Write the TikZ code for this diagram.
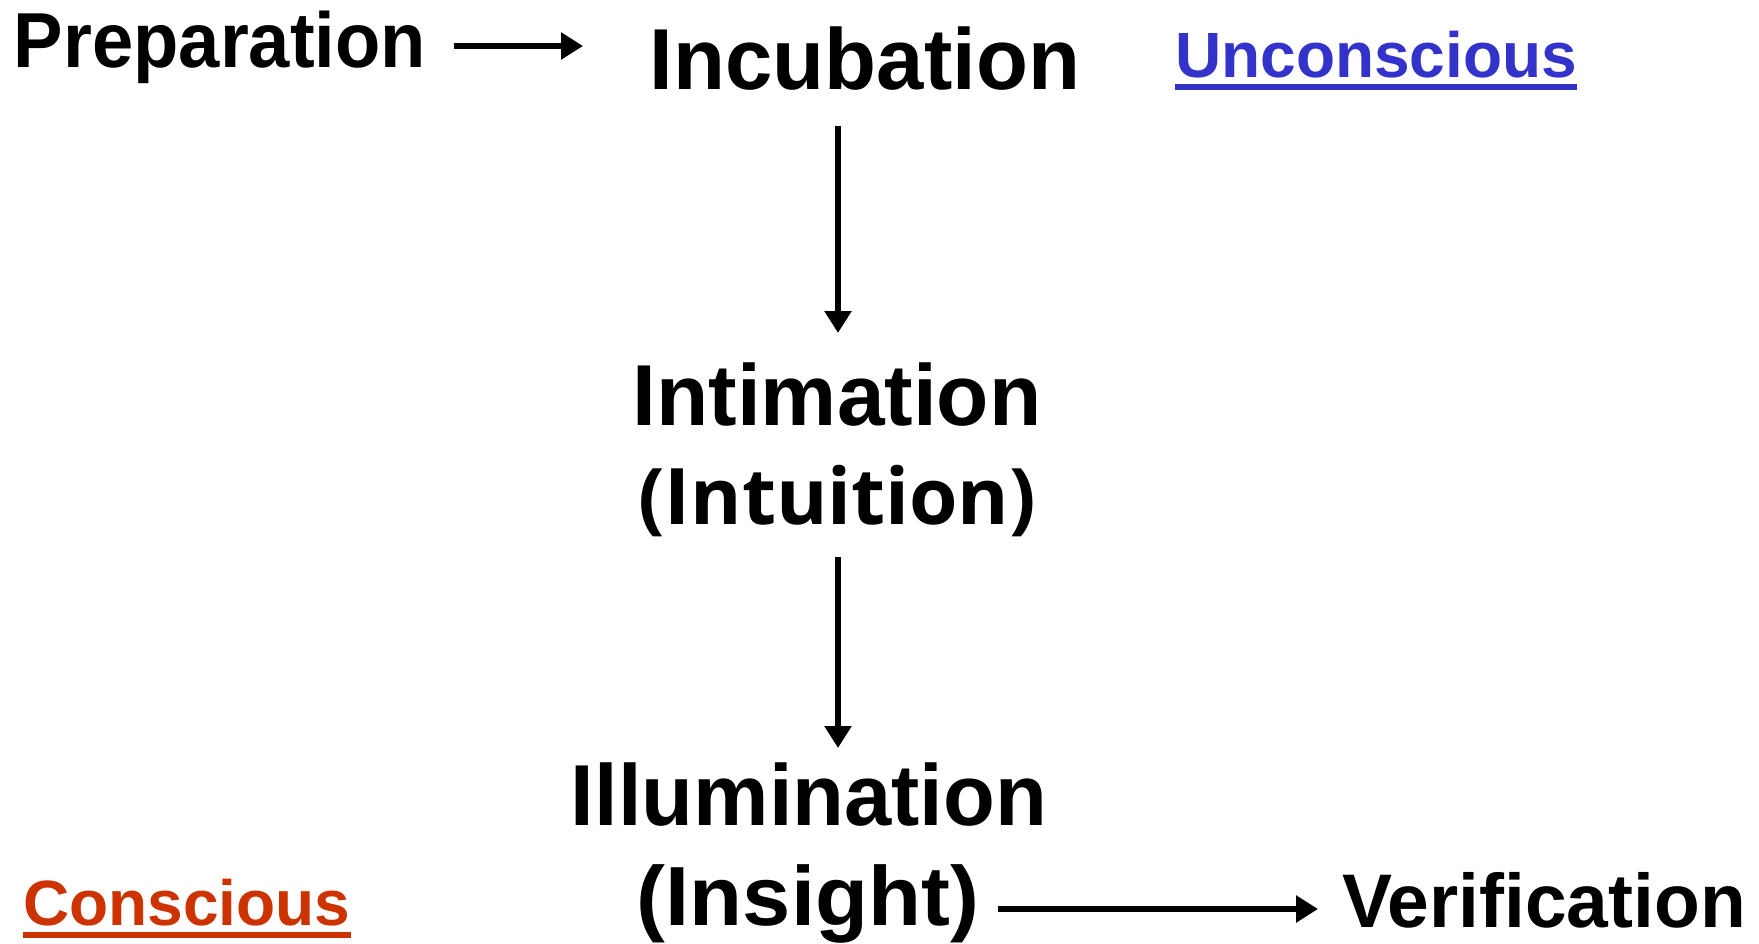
\documentclass[tikz,border=0pt]{standalone}
\usepackage{fontspec}
\usepackage{graphicx}
\setmainfont{Liberation Sans}
\newfontfamily\osans{Open Sans}
\usetikzlibrary{arrows.meta}
\definecolor{ublue}{HTML}{3333CC}
\definecolor{cred}{HTML}{CC3300}
\newcommand{\fitw}[2]{\resizebox{#1}{\height}{#2}}
\begin{document}
\begin{tikzpicture}[x=1pt,y=-1pt,
  lbl/.style={inner sep=0pt, anchor=base, font=\bfseries},
  lblw/.style={inner sep=0pt, anchor=base west, font=\bfseries},
  arr/.style={line width=5.5pt, -{Triangle[length=22pt,width=26pt]}}]
\useasboundingbox (0,0) rectangle (1759,944);
% texts
\node[lbl] (prep) at (220,68) {\fontsize{78}{85}\selectfont\fitw{412pt}{Preparation}};
\node[lbl] (inc) at (865,90) {\fontsize{86.6}{90}\selectfont\fitw{430pt}{Incubation}};
\node[lblw, text=ublue] (unc) at (1175,78) {\fontsize{64}{70}\selectfont Unconscious};
\node[lbl] (inti) at (837,425) {\fontsize{86.6}{90}\selectfont\fitw{409pt}{Intimation}};
\node[lbl] (intu) at (837,524) {\fontsize{78}{80}\selectfont\osans\bfseries\fitw{398pt}{(Intuition)}};
\node[lbl] (ill) at (809,825) {\fontsize{86.6}{90}\selectfont\fitw{476pt}{Illumination}};
\node[lbl] (ins) at (808,925) {\fontsize{84}{88}\selectfont\fitw{342pt}{(Insight)}};
\node[lbl] (ver) at (1544,927) {\fontsize{76}{80}\selectfont\fitw{404pt}{Verification}};
\node[lblw, text=cred] (con) at (23,925) {\fontsize{64}{70}\selectfont Conscious};
% underlines
\fill[ublue] ([yshift=-6pt]unc.base west) rectangle ([yshift=-12pt]unc.base east);
\fill[cred] ([yshift=-7pt]con.base west) rectangle ([yshift=-13pt]con.base east);
% arrow ends
\coordinate (a1s) at (454,46);  \coordinate (a1e) at (583,46);
\coordinate (a2s) at (838,126); \coordinate (a2e) at (838,333);
\coordinate (a3s) at (838,557); \coordinate (a3e) at (838,748);
\coordinate (a4s) at (998,909); \coordinate (a4e) at (1318,909);
\draw[arr] (a1s) -- (a1e);
\draw[arr] (a2s) -- (a2e);
\draw[arr] (a3s) -- (a3e);
\draw[arr] (a4s) -- (a4e);
\end{tikzpicture}
\end{document}
